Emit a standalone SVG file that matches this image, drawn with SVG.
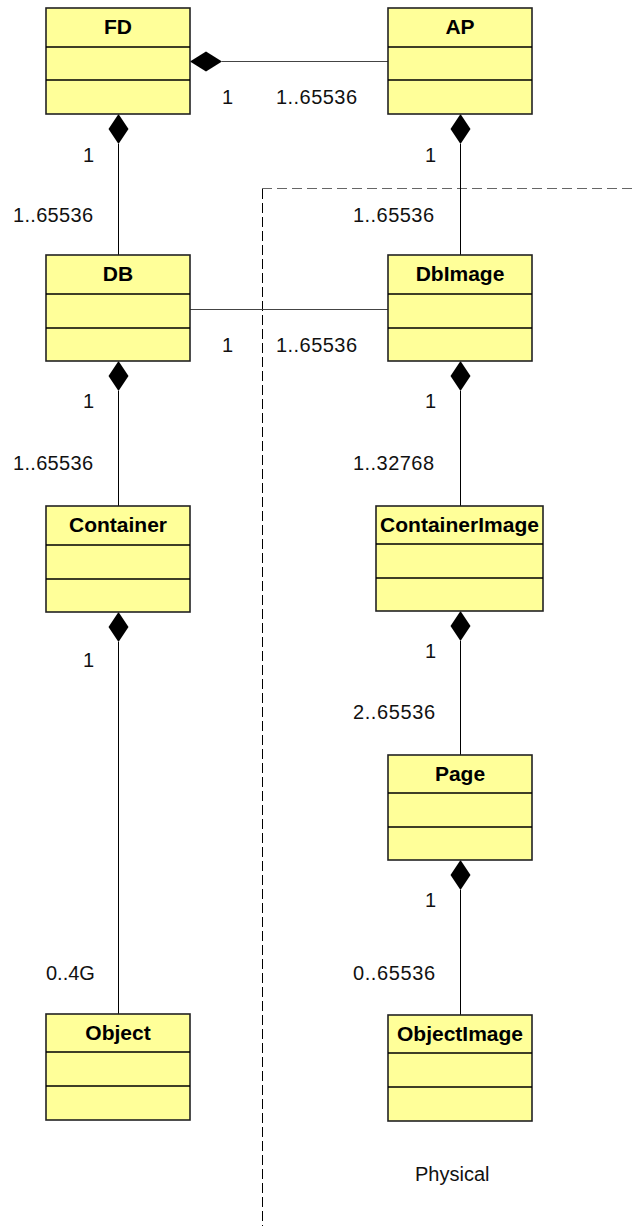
<svg xmlns="http://www.w3.org/2000/svg" width="634" height="1226" viewBox="0 0 634 1226">
<style>
.box{fill:#ffff99;stroke:#222;stroke-width:1.6}
.div{stroke:#000;stroke-width:1.6}
.title{font-family:"Liberation Sans",Arial,sans-serif;font-weight:bold;font-size:21px;text-anchor:middle;fill:#000}
.lbl{font-family:"Liberation Sans",Arial,sans-serif;font-size:20px;fill:#111}
.ln{stroke:#000;stroke-width:1;fill:none}
.lng{stroke:#444;stroke-width:1;fill:none}
.dia{fill:#000}
</style>
<g id="boundary">
<path d="M262 188.5 H634" stroke="#666" stroke-width="1" stroke-dasharray="10 5" fill="none"/>
<path d="M262.5 189 V1226" stroke="#000" stroke-width="1" stroke-dasharray="10 4" fill="none"/>
</g>
<g id="connectors">
<path class="lng" d="M222 61.5 H388"/>
<polygon class="dia" points="190,61.5 206,51.5 222,61.5 206,71.5"/>
<path class="lng" d="M190 309.5 H388"/>
<path class="ln" d="M118.5 144 V255"/>
<polygon class="dia" points="118.5,114 108.5,129 118.5,144 128.5,129"/>
<path class="ln" d="M460.5 144 V255"/>
<polygon class="dia" points="460.5,114 450.5,129 460.5,144 470.5,129"/>
<path class="ln" d="M118.5 391 V506"/>
<polygon class="dia" points="118.5,361 108.5,376 118.5,391 128.5,376"/>
<path class="ln" d="M460.5 391 V506"/>
<polygon class="dia" points="460.5,361 450.5,376 460.5,391 470.5,376"/>
<path class="ln" d="M118.5 642 V1014"/>
<polygon class="dia" points="118.5,612 108.5,627 118.5,642 128.5,627"/>
<path class="ln" d="M460.5 641 V755"/>
<polygon class="dia" points="460.5,611 450.5,626 460.5,641 470.5,626"/>
<path class="ln" d="M460.5 890 V1015"/>
<polygon class="dia" points="460.5,860 450.5,875 460.5,890 470.5,875"/>
<text class="lbl" x="222" y="104">1</text>
<text class="lbl" x="276" y="104" textLength="81">1..65536</text>
<text class="lbl" x="222" y="352">1</text>
<text class="lbl" x="276" y="352" textLength="81">1..65536</text>
<text class="lbl" x="83" y="162">1</text>
<text class="lbl" x="13" y="222" textLength="80">1..65536</text>
<text class="lbl" x="425" y="162">1</text>
<text class="lbl" x="353" y="222" textLength="81">1..65536</text>
<text class="lbl" x="83" y="408">1</text>
<text class="lbl" x="13" y="470" textLength="80">1..65536</text>
<text class="lbl" x="425" y="408">1</text>
<text class="lbl" x="353" y="470" textLength="81">1..32768</text>
<text class="lbl" x="83" y="667">1</text>
<text class="lbl" x="425" y="658">1</text>
<text class="lbl" x="353" y="719" textLength="82">2..65536</text>
<text class="lbl" x="425" y="907">1</text>
<text class="lbl" x="353" y="980" textLength="82">0..65536</text>
<text class="lbl" x="46" y="980">0..4G</text>
</g>
<g id="FD">
<rect class="box" x="46" y="8" width="144" height="106"/>
<path class="div" d="M46 47 H190 M46 80 H190"/>
<text class="title" x="118" y="34">FD</text>
</g>
<g id="AP">
<rect class="box" x="388" y="8" width="144" height="106"/>
<path class="div" d="M388 47 H532 M388 80 H532"/>
<text class="title" x="460" y="34">AP</text>
</g>
<g id="DB">
<rect class="box" x="46" y="255" width="144" height="106"/>
<path class="div" d="M46 294 H190 M46 328 H190"/>
<text class="title" x="118" y="281">DB</text>
</g>
<g id="DbImage">
<rect class="box" x="388" y="255" width="144" height="106"/>
<path class="div" d="M388 294 H532 M388 328 H532"/>
<text class="title" x="460" y="281">DbImage</text>
</g>
<g id="Container">
<rect class="box" x="46" y="506" width="144" height="106"/>
<path class="div" d="M46 545 H190 M46 579 H190"/>
<text class="title" x="118" y="532">Container</text>
</g>
<g id="ContainerImage">
<rect class="box" x="376" y="506" width="167" height="105"/>
<path class="div" d="M376 544 H543 M376 578 H543"/>
<text class="title" x="459.5" y="532" textLength="159">ContainerImage</text>
</g>
<g id="Page">
<rect class="box" x="388" y="755" width="144" height="105"/>
<path class="div" d="M388 793 H532 M388 827 H532"/>
<text class="title" x="460" y="781">Page</text>
</g>
<g id="Object">
<rect class="box" x="46" y="1014" width="144" height="106"/>
<path class="div" d="M46 1052 H190 M46 1086 H190"/>
<text class="title" x="118" y="1040">Object</text>
</g>
<g id="ObjectImage">
<rect class="box" x="388" y="1015" width="144" height="106"/>
<path class="div" d="M388 1053 H532 M388 1087 H532"/>
<text class="title" x="460" y="1041">ObjectImage</text>
</g>
<text class="lbl" x="415" y="1181">Physical</text>
</svg>
